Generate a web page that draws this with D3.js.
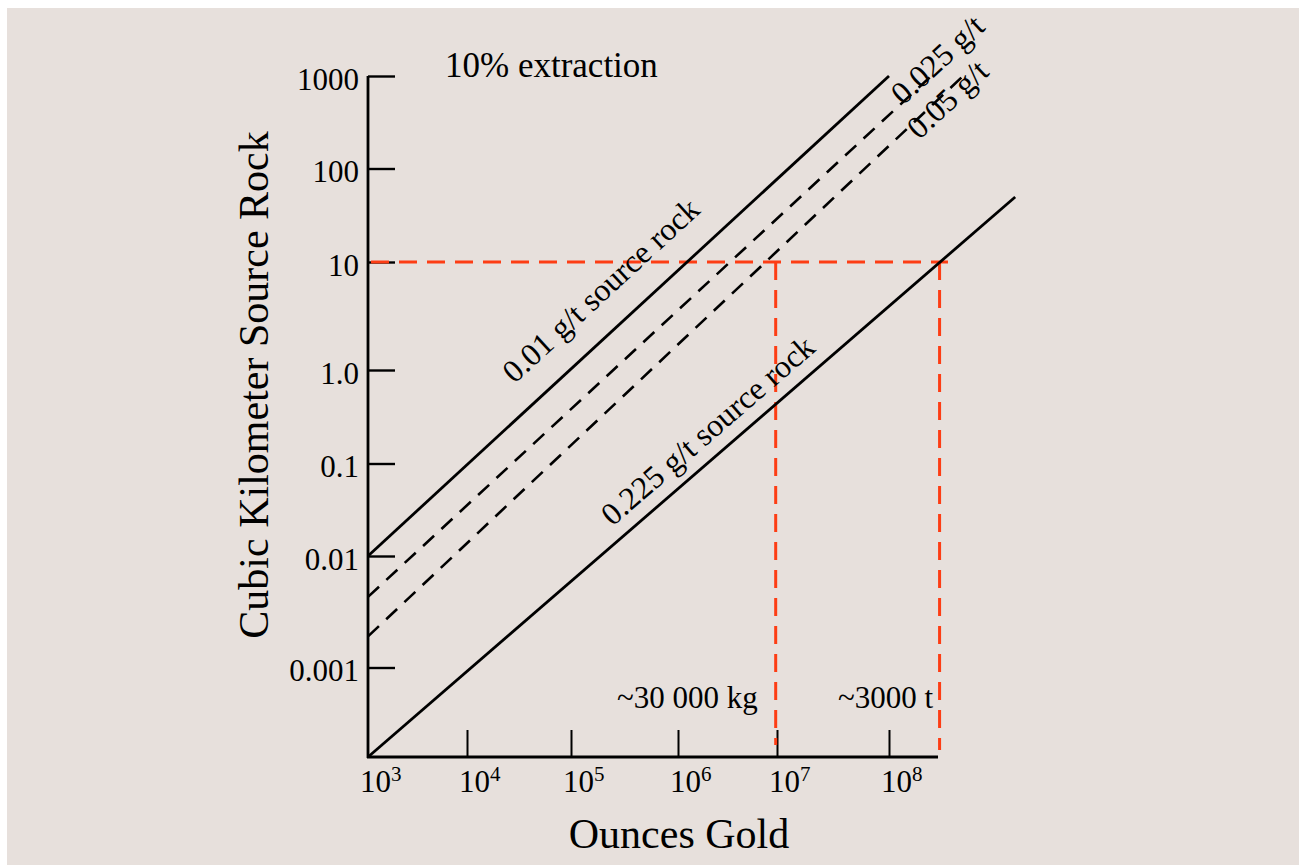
<!DOCTYPE html>
<html>
<head>
<meta charset="utf-8">
<script src="https://cdn.jsdelivr.net/npm/d3@7"></script>
<style>
  body { margin: 0; background: #fff; }
  svg { display: block; font-family: "Liberation Serif", "DejaVu Serif", serif; }
</style>
</head>
<body>
<div class="chart"></div>
<script>
// ticks
const ozTicks = [ 1e3, 1e4, 1e5, 1e6, 1e7, 1e8 ];
const ozTickExp = [ "3", "4", "5", "6", "7", "8" ];
const km3Ticks = [ 0.001, 0.01, 0.1, 1, 10, 100, 1000 ];
const km3TickLabels = [ "0.001", "0.01", "0.1", "1.0", "10", "100", "1000" ];

// grade lines (start / end, ounces and km3)
const gradeNames = [ "0.01 g/t source rock", "0.025 g/t", "0.05 g/t", "0.225 g/t source rock" ];
const startOz   = [ 1e3, 1e3, 1e3, 1e3 ];
const startKm3  = [ 0.01, 0.0043, 0.0019, 0.0001 ];
const endOz     = [ 1e8, 2.5e8, 5e8, 1.55e9 ];
const endKm3    = [ 1000, 1000, 1000, 49.5 ];

// red guide lines at 10 km3
const guideKm3 = 10;
const guideEndOz = 3.6e8;
const guideOz = [ 9.7e6, 3e8 ];
const guideBottomKm3 = [ 1.36e-4, 1.2e-4 ];
const guideNotes = [ "~30 000 kg", "~3000 t" ];

const width = 1299, height = 865;

const svg = d3.select( ".chart" )
  .append( "svg" )
    .attr( "width", width )
    .attr( "height", height );

svg.append( "rect" )
  .attr( "x", 7 ).attr( "y", 8 )
  .attr( "width", width - 7 ).attr( "height", height - 8 )
  .attr( "fill", "#e7e0dc" );

// the printed axes are not quite even, so piecewise log scales
const x = d3.scaleLog()
  .domain( [ 1e3, 1e4, 1e5, 1e6, 1e7, 1e8, 1e9 ] )
  .range( [ 368, 467, 571, 678, 777, 889, 995 ] );

const y = d3.scaleLog()
  .domain( [ 1e-4, 1e-3, 1e-2, 1e-1, 1, 10, 100, 1000 ] )
  .range( [ 757, 667.5, 556, 463.5, 370, 262, 168.5, 76 ] );

const axisEndOz = 2.9e8;

// y axis
const yAxis = d3.axisLeft( y )
  .tickValues( km3Ticks )
  .tickSizeInner( -27 )
  .tickSizeOuter( 0 )
  .tickPadding( 9 )
  .tickFormat( ( d, i ) => km3TickLabels[ i ] );

const gy = svg.append( "g" )
  .attr( "transform", `translate(${ x( 1e3 ) },0)` )
  .call( yAxis );
gy.select( ".domain" ).remove();
gy.selectAll( ".tick line" ).attr( "stroke", "#000" ).attr( "stroke-width", 2.4 );
gy.selectAll( ".tick text" )
  .attr( "fill", "#000" )
  .attr( "font-family", "Liberation Serif" )
  .attr( "font-size", 31 )
  .attr( "dy", 13 );

// x axis
const xAxis = d3.axisBottom( x )
  .tickValues( ozTicks.slice( 1 ) )
  .tickSizeInner( -27 )
  .tickSizeOuter( 0 )
  .tickFormat( "" );

const gx = svg.append( "g" )
  .attr( "transform", `translate(0,${ y( 1e-4 ) })` )
  .call( xAxis );
gx.select( ".domain" ).remove();
gx.selectAll( ".tick line" ).attr( "stroke", "#000" ).attr( "stroke-width", 2 );

const xLabel = svg.append( "g" ).selectAll( "text" )
  .data( ozTicks )
  .enter()
    .append( "text" )
    .attr( "x", d => x( d ) - 8 )
    .attr( "y", y( 1e-4 ) + 35 )
    .attr( "font-size", 31 );
xLabel.append( "tspan" ).text( "10" );
xLabel.append( "tspan" )
  .attr( "font-size", 21 )
  .attr( "dy", -11 )
  .text( ( d, i ) => ozTickExp[ i ] );

// axis lines
svg.append( "line" )
  .attr( "x1", x( 1e3 ) ).attr( "x2", x( 1e3 ) )
  .attr( "y1", y( 1000 ) ).attr( "y2", y( 1e-4 ) + 1 )
  .attr( "stroke", "#000" ).attr( "stroke-width", 2.8 );
svg.append( "line" )
  .attr( "x1", x( 1e3 ) - 1 ).attr( "x2", x( axisEndOz ) )
  .attr( "y1", y( 1e-4 ) ).attr( "y2", y( 1e-4 ) )
  .attr( "stroke", "#000" ).attr( "stroke-width", 2.8 );

// red guides
const red = "#fd3d14";
svg.append( "line" )
  .attr( "x1", x( 1e3 ) + 3 ).attr( "x2", x( guideEndOz ) )
  .attr( "y1", y( guideKm3 ) ).attr( "y2", y( guideKm3 ) )
  .attr( "stroke", red ).attr( "stroke-width", 3 )
  .attr( "stroke-dasharray", "18,10" );

svg.selectAll( "line.guide" )
  .data( guideOz )
  .enter()
    .append( "line" )
    .attr( "class", "guide" )
    .attr( "x1", d => x( d ) ).attr( "x2", d => x( d ) )
    .attr( "y1", y( guideKm3 ) )
    .attr( "y2", ( d, i ) => y( guideBottomKm3[ i ] ) )
    .attr( "stroke", red ).attr( "stroke-width", 3 )
    .attr( "stroke-dasharray", "18,10" );

// grade lines
const dashed = [ false, true, true, false ];
const line = d3.line()
  .x( d => x( d[ 0 ] ) )
  .y( d => y( d[ 1 ] ) );

svg.selectAll( "path.grade" )
  .data( gradeNames.map( ( n, i ) => [ [ startOz[ i ], startKm3[ i ] ], [ endOz[ i ], endKm3[ i ] ] ] ) )
  .enter()
    .append( "path" )
    .attr( "class", "grade" )
    .attr( "d", line )
    .attr( "fill", "none" )
    .attr( "stroke", "#000" )
    .attr( "stroke-width", ( d, i ) => dashed[ i ] ? 2.6 : 2.8 )
    .attr( "stroke-dasharray", ( d, i ) => dashed[ i ] ? "15,10" : null );

// labels along the lines: where they start (ounces) and offset from the line
const labelAt = [ 4.3e4, 1.3e8, 1.5e8, 2.97e5 ];
const labelOff = [ 27, -3, -17, 14 ];

gradeNames.forEach( ( name, i ) => {
  const x0 = x( startOz[ i ] ), y0 = y( startKm3[ i ] );
  const x1 = x( endOz[ i ] ), y1 = y( endKm3[ i ] );
  const ang = Math.atan2( y1 - y0, x1 - x0 );
  const px = x( labelAt[ i ] );
  const py = y0 + ( y1 - y0 ) * ( px - x0 ) / ( x1 - x0 );
  const tx = px + labelOff[ i ] * Math.sin( ang );
  const ty = py - labelOff[ i ] * Math.cos( ang );
  svg.append( "text" )
    .attr( "transform", `translate(${ tx },${ ty }) rotate(${ ang * 180 / Math.PI })` )
    .attr( "font-size", 32 )
    .text( name );
} );

// notes under the guides
svg.append( "text" )
  .attr( "x", x( guideOz[ 0 ] ) - 18 )
  .attr( "y", 708 )
  .attr( "text-anchor", "end" )
  .attr( "font-size", 31 )
  .text( guideNotes[ 0 ] );
svg.append( "text" )
  .attr( "x", 838 )
  .attr( "y", 708 )
  .attr( "font-size", 31 )
  .attr( "xml:space", "preserve" )
  .text( guideNotes[ 1 ] );

// titles
svg.append( "text" )
  .attr( "x", 445 ).attr( "y", 77 )
  .attr( "font-size", 35 )
  .text( "10% extraction" );

svg.append( "text" )
  .attr( "x", 679 ).attr( "y", 848 )
  .attr( "text-anchor", "middle" )
  .attr( "font-size", 42 )
  .text( "Ounces Gold" );

svg.append( "text" )
  .attr( "transform", "translate(268,385) rotate(-90)" )
  .attr( "text-anchor", "middle" )
  .attr( "font-size", 42 )
  .text( "Cubic Kilometer Source Rock" );
</script>
</body>
</html>
